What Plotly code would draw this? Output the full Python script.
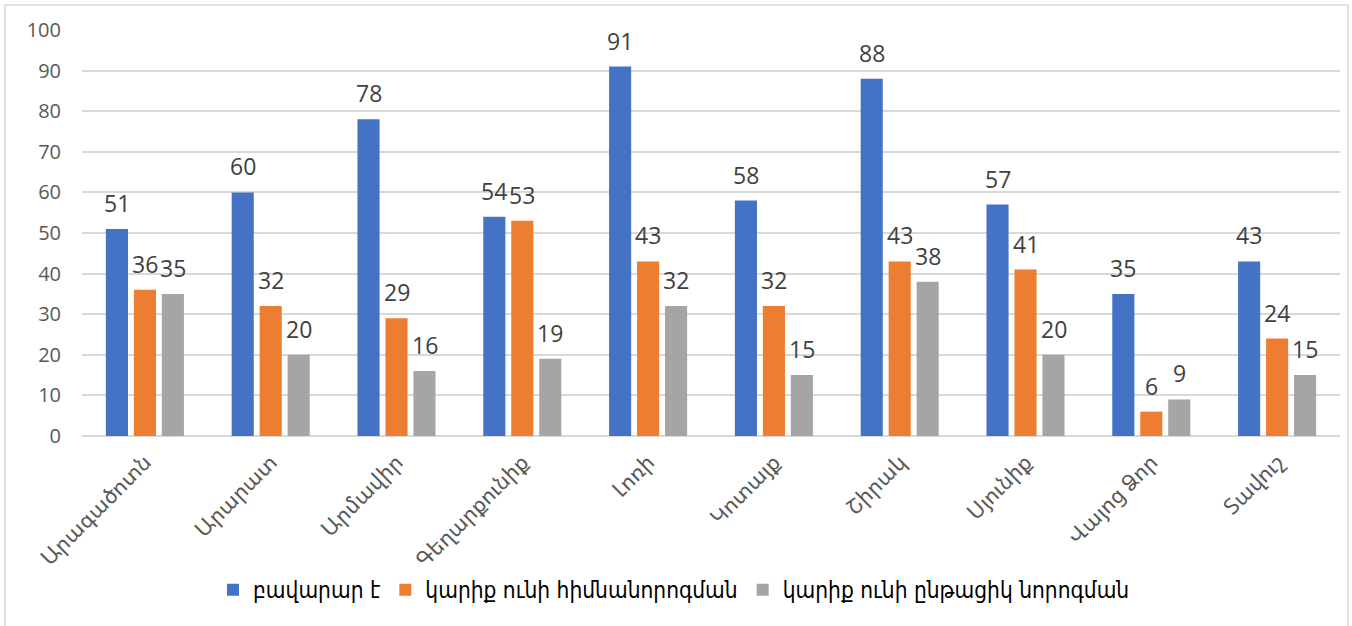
import plotly.graph_objects as go

categories = ["Արագածոտն", "Արարատ", "Արմավիր", "Գեղարքունիք", "Լոռի",
              "Կոտայք", "Շիրակ", "Սյունիք", "Վայոց Ձոր", "Տավուշ"]
series_names = ["բավարար է", "կարիք ունի հիմնանորոգման", "կարիք ունի ընթացիկ նորոգման"]
good = [51, 60, 78, 54, 91, 58, 88, 57, 35, 43]
capital = [36, 32, 29, 53, 43, 32, 43, 41, 6, 24]
current = [35, 20, 16, 19, 32, 15, 38, 20, 9, 15]
y_ticks = [0, 10, 20, 30, 40, 50, 60, 70, 80, 90, 100]
colors = ["#4472C4", "#ED7D31", "#A5A5A5"]

W, H = 1352, 626
ml, mr, mt, mb = 82, 12, 30, 190
pw, ph = W - ml - mr, H - mt - mb

fig = go.Figure()
all_series = [good, capital, current]
for name, vals, col in zip(series_names, all_series, colors):
    fig.add_trace(go.Bar(x=categories, y=vals, name=name, marker_color=col,
                         marker_line_width=0))

shifts = [-28, 0, 28]
annotations = []
for vals, sh in zip(all_series, shifts):
    for c, v in zip(categories, vals):
        annotations.append(dict(x=c, y=v, xref="x", yref="y", text=str(v),
                                showarrow=False, xshift=sh, yshift=8,
                                yanchor="bottom", xanchor="center",
                                font=dict(family="Open Sans, Liberation Sans, sans-serif",
                                          size=23, color="#404040")))

def px_x(p):
    return (p - ml) / pw

def px_y(p):
    return (H - mb - p) / ph

fig.update_layout(
    width=W, height=H,
    margin=dict(l=ml, r=mr, t=mt, b=mb, autoexpand=False),
    paper_bgcolor="white", plot_bgcolor="white",
    barmode="group", bargap=0.333, bargroupgap=0.21,
    annotations=annotations,
    showlegend=True,
    legend=dict(orientation="h", x=px_x(674), xanchor="center",
                y=px_y(590), yanchor="middle",
                font=dict(family="DejaVu Sans Condensed, DejaVu Sans, sans-serif",
                          size=22.5, color="#000000"),
                itemwidth=30, traceorder="normal"),
    shapes=[dict(type="rect", xref="paper", yref="paper",
                 x0=px_x(5), x1=px_x(1348), y0=px_y(660), y1=px_y(5),
                 line=dict(color="#D9D9D9", width=1.5), fillcolor="rgba(0,0,0,0)",
                 layer="below")],
)
fig.update_xaxes(tickangle=-45, showgrid=False, showline=False, ticks="",
                 automargin=False, ticklabelstandoff=8,
                 tickfont=dict(family="Noto Sans Armenian, Noto Sans, DejaVu Sans, sans-serif",
                               size=22, color="#595959"))
fig.update_yaxes(range=[0, 100], tickvals=y_ticks, showgrid=True, automargin=False,
                 gridcolor="#D9D9D9", gridwidth=1.5, zeroline=True,
                 zerolinecolor="#D9D9D9", zerolinewidth=1.5, ticks="",
                 ticklabelstandoff=20,
                 tickfont=dict(family="Open Sans, Liberation Sans, sans-serif",
                               size=20, color="#595959"))

fig.write_html("out.html", config={"displayModeBar": False},
               post_script="document.body.style.margin='0';")
